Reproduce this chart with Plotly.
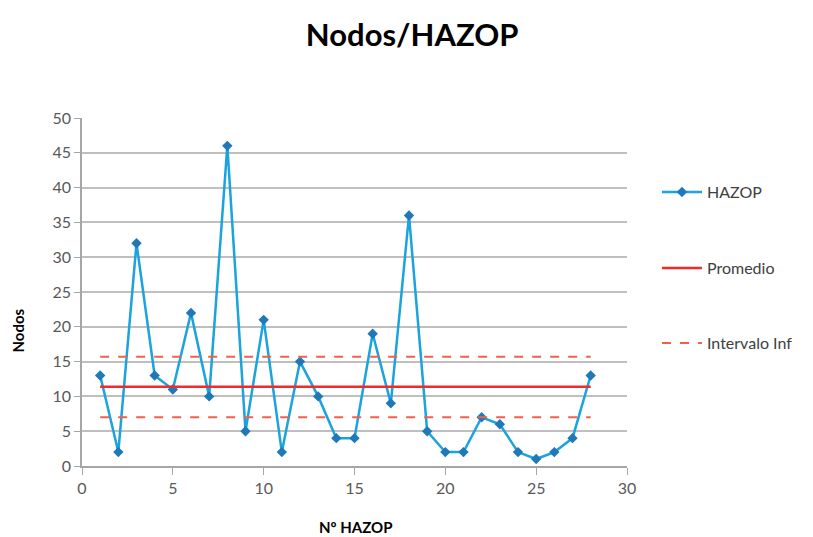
import plotly.graph_objects as go

x_vals = list(range(1, 29))
nodos = [13, 2, 32, 13, 11, 22, 10, 46, 5, 21, 2, 15, 10, 4, 4, 19, 9, 36, 5, 2, 2, 7, 6, 2, 1, 2, 4, 13]
promedio = [11.4] * 28
intervalo_sup = [15.7] * 28
intervalo_inf = [7.0] * 28

FONT = "Lato, Open Sans, sans-serif"
fig = go.Figure()
fig.add_trace(go.Scatter(x=x_vals, y=nodos, mode="lines+markers", name="HAZOP",
                         line=dict(color="#1AA3DD", width=2.5),
                         marker=dict(symbol="diamond", size=8, color="#1F78B8"),
                         legend="legend"))
fig.add_trace(go.Scatter(x=x_vals, y=promedio, mode="lines", name="Promedio",
                         line=dict(color="#F42A2A", width=2.5), legend="legend2"))
fig.add_trace(go.Scatter(x=x_vals, y=intervalo_inf, mode="lines", name="Intervalo Inf",
                         line=dict(color="#F2604C", width=2, dash="dash"), legend="legend3"))
fig.add_trace(go.Scatter(x=x_vals, y=intervalo_sup, mode="lines", name="Intervalo Sup",
                         line=dict(color="#F2604C", width=2, dash="dash"), showlegend=False))

leg = dict(font=dict(family=FONT, size=16, color="#404040"), bgcolor="rgba(0,0,0,0)",
           xanchor="left", yanchor="middle", x=1.055, itemwidth=40)
fig.update_layout(
    width=813, height=537,
    margin=dict(l=82, r=186, t=118, b=71),
    paper_bgcolor="white", plot_bgcolor="white",
    title=dict(text="<b>Nodos/HAZOP</b>", x=0.507, xanchor="center", y=0.935, yanchor="middle",
               font=dict(family=FONT, size=31, color="black")),
    font=dict(family=FONT),
    legend=dict(**leg, y=0.787),
    legend2=dict(**leg, y=0.569),
    legend3=dict(**leg, y=0.353),
    xaxis=dict(range=[0, 30], tick0=0, dtick=5, showgrid=False, zeroline=False, automargin=False,
               showline=True, linecolor="#A6A6A6", linewidth=1.5, ticks="outside",
               tickcolor="#A6A6A6", ticklen=7,
               tickfont=dict(family=FONT, size=16, color="#595959")),
    yaxis=dict(range=[0, 50], tick0=0, dtick=5, showgrid=True, gridcolor="#BFBFBF", gridwidth=1.5,
               zeroline=False, showline=True, linecolor="#A6A6A6", linewidth=1.5, ticks="outside",
               tickcolor="#A6A6A6", ticklen=6, automargin=False,
               tickfont=dict(family=FONT, size=16, color="#595959")),
    annotations=[
        dict(text="<b>Nº HAZOP</b>", xref="paper", yref="paper", x=0.502, y=-0.175,
             xanchor="center", yanchor="middle", showarrow=False,
             font=dict(family=FONT, size=15, color="black")),
        dict(text="<b>Nodos</b>", xref="paper", yref="paper", x=-0.117, y=0.39,
             xanchor="center", yanchor="middle", showarrow=False, textangle=-90,
             font=dict(family=FONT, size=15, color="black")),
    ],
)
fig.write_html("out.html")
